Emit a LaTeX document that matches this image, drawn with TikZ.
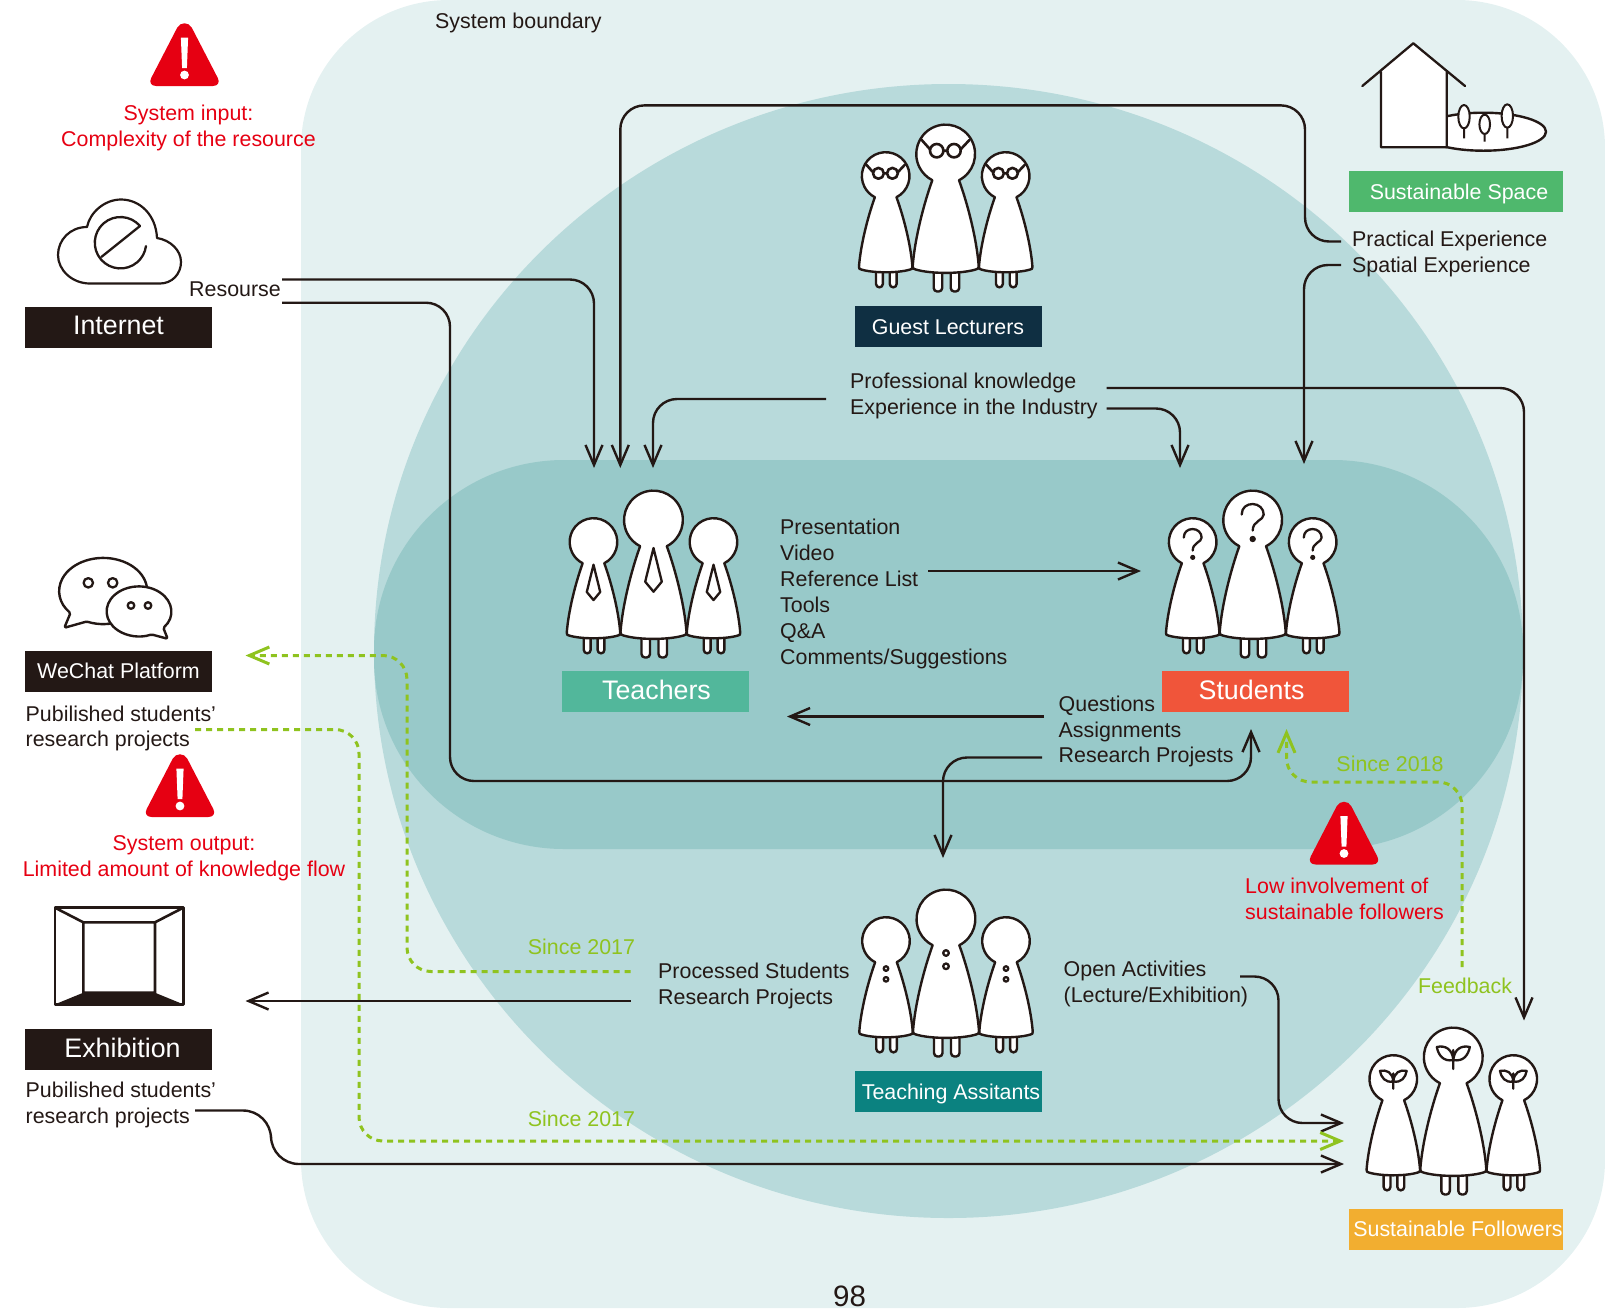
\documentclass[tikz,border=0pt]{standalone}
\usepackage{fontspec}
\setmainfont{Liberation Sans}
\usetikzlibrary{arrows.meta}
\definecolor{ink}{HTML}{231815}
\definecolor{zoneout}{HTML}{E4F1F1}
\definecolor{zonemid}{HTML}{B8DADB}
\definecolor{zonein}{HTML}{98C9C9}
\definecolor{alert}{HTML}{E60012}
\definecolor{leaf}{HTML}{8FC31F}
\definecolor{tagguest}{HTML}{0F2F42}
\definecolor{tagteacher}{HTML}{52B79B}
\definecolor{tagstudent}{HTML}{F0553A}
\definecolor{tagassist}{HTML}{0B8280}
\definecolor{tagfollow}{HTML}{F2AE30}
\definecolor{tagspace}{HTML}{4FB86D}
\tikzset{
  x=1pt,y=-1pt,
  figure line/.style={draw=ink,fill=white,line width=2.4pt,line join=round},
  deco line/.style={draw=ink,line width=2.3pt,line cap=round,line join=round},
  txt/.style={text=ink,inner sep=0pt,align=left,anchor=west,font=\fontsize{21.4}{25.9}\selectfont},
  redtxt/.style={txt,text=alert},
  greentxt/.style={text=leaf,inner sep=0pt,font=\fontsize{21.4}{25.9}\selectfont},
  tag/.style={text=white,inner sep=0pt,minimum width=187pt,minimum height=41pt,text height=15.3pt,text depth=0pt,
    font=\fontsize{21.4}{25.9}\selectfont},
  bigtag/.style={tag,text height=19pt,font=\fontsize{26.8}{30}\selectfont},
  link/.style={draw=ink,line width=2.4pt,rounded corners=24pt,-{Straight Barb[length=20pt,width=17pt]}},
  greenlink/.style={draw=leaf,line width=3pt,rounded corners=24pt,dash pattern=on 6pt off 5pt,
    -{Straight Barb[length=20pt,width=17pt]}},
}
% One figure: legs, then body and head as one outline, then its emblem
\newcommand{\drawperson}[4]{%
  \begin{scope}[shift={(#1,#2)},scale=#3]
    \draw[figure line,rounded corners=3.5pt] (-12,105) -- (-12,137.5) -- (-3.5,137.5) -- (-3.5,105);
    \draw[figure line,rounded corners=3.5pt] (5,105) -- (5,137.5) -- (13.5,137.5) -- (13.5,105);
    \draw[figure line] (13.3,26.2) arc[start angle=63,end angle=-243,radius=29.4]
      .. controls (-22,50) and (-31,85) .. (-33,112)
      .. controls (-33.5,114.5) and (-32,115) .. (-30,115.5)
      .. controls (-15,120) and (15,120) .. (30,115.5)
      .. controls (32,115) and (33.5,114.5) .. (33,112)
      .. controls (31,85) and (22,50) .. (13.3,26.2) -- cycle;
    #4
  \end{scope}}
\newcommand{\drawtrio}[3]{%
  \drawperson{#1-60}{#2+22}{0.81}{#3}%
  \drawperson{#1+60}{#2+22}{0.81}{#3}%
  \drawperson{#1}{#2}{1}{#3}}
% Emblems
\newcommand{\tieemblem}{\draw[deco line] (0,28) -- (-8.3,61.7) -- (0,71.7) -- (8.3,61.7) -- cycle;}
\newcommand{\glassemblem}{%
  \draw[deco line,line width=2.6pt] (-9,-3.3) circle[radius=6.7] (8.3,-3.3) circle[radius=6.7]
    (-2.3,-3.3) -- (1.6,-3.3) (-24,-14) -- (-15.5,-4.5) (23.7,-14) -- (14.8,-4.5);}
\newcommand{\askemblem}{%
  \draw[deco line] (-11,-5.5) .. controls (-11,-12.5) and (-6,-16) .. (0,-16)
    .. controls (6,-16) and (11,-11.5) .. (11,-5.5)
    .. controls (11,0.5) and (0,0.5) .. (0,10.5);
  \fill[ink] (0,19) circle[radius=3.2];}
\newcommand{\buttonemblem}{%
  \draw[deco line] (0,34) circle[radius=2.8] (0,47.3) circle[radius=2.8];}
\newcommand{\sproutemblem}{%
  \draw[deco line] (0,-7) -- (0,12)
    (0,3) .. controls (-10,5) and (-15,-2) .. (-16.5,-10) .. controls (-8,-12) and (-1,-8) .. (0,3)
    (0,3) .. controls (10,5) and (15,-2) .. (16.5,-10) .. controls (8,-12) and (1,-8) .. (0,3);}
% Warning sign, given centre line and top
\newcommand{\warnsign}[2]{%
  \begin{scope}[shift={(#1,#2)}]
    \fill[alert] (-7.3,4.7) .. controls (-4.25,-1.2) and (4.25,-1.2) .. (7.3,4.7)
      -- (33.3,55) .. controls (35.6,59.4) and (33.35,63) .. (28.4,63)
      -- (-28.4,63) .. controls (-33.35,63) and (-35.6,59.4) .. (-33.3,55) -- cycle;
    \fill[white] (-3.6,14.5) -- (3.6,14.5) -- (2.4,45) -- (-2.4,45) -- cycle;
    \fill[white] (0,52) circle[radius=4.4];
  \end{scope}}
\begin{document}
\begin{tikzpicture}
\useasboundingbox (0,0) rectangle (1605,1310);

% Nested zones
\fill[zoneout,rounded corners=148pt] (301,0) rectangle (1605,1308);
\fill[zonemid] (948.5,651) ellipse[x radius=574.5,y radius=567];
\fill[zonein,rounded corners=190pt] (374,460) rectangle (1523,849);

% Internet cloud
\draw[figure line,line width=2.2pt] (90,283.5) .. controls (72,283.5) and (58,270) .. (58,255)
  .. controls (58,240) and (70,227) .. (87,227)
  .. controls (90,212) and (105,199.5) .. (121,199.5)
  .. controls (140,199.5) and (156,215) .. (157,238)
  .. controls (170,240) and (181,250) .. (181,262)
  .. controls (181,274) and (172,283.5) .. (160,283.5) -- cycle;
\draw[deco line] (140,226) arc[start angle=-40.6,end angle=-352.5,radius=25.7] (140,226) -- (101.7,256.7);

% WeChat bubbles
\draw[figure line,rounded corners=1.5pt] (86.7,621.5) arc[start angle=112,end angle=-222,x radius=44,y radius=33]
  -- (64.3,627.8) -- cycle;
\draw[figure line,rounded corners=1.5pt] (163.3,627.8) arc[start angle=41,end angle=-293,x radius=32.3,y radius=25]
  -- (167.7,638.8) -- cycle;
\draw[deco line] (88.3,582.8) circle[radius=4.7] (112.7,582.8) circle[radius=4.7]
  (131,605.5) circle[radius=3.3] (148,605.5) circle[radius=3.3];

% Exhibition room
\draw[figure line,line width=2.6pt] (55,907.7) rectangle (183.3,1004.3);
\fill[ink] (83.3,992.7) -- (155,992.7) -- (183.3,1004.3) -- (55,1004.3) -- cycle;
\draw[deco line,line width=2.6pt,line cap=butt] (83.3,922.3) rectangle (155,992.7)
  (55,907.7) -- (83.3,922.3) (183.3,907.7) -- (155,922.3);

% House with garden
\draw[figure line] (1483.3,131.7) ellipse[x radius=62.7,y radius=19];
\draw[figure line,line width=2pt] (1464,116.7) ellipse[x radius=5.7,y radius=11.7] (1464,128.4) -- (1464,138.3)
  (1484.7,124.3) ellipse[x radius=5.3,y radius=9.7] (1484.7,134) -- (1484.7,141.7)
  (1507.3,116) ellipse[x radius=5.7,y radius=11.7] (1507.3,127.7) -- (1507.3,138.3);
\fill[white] (1381,72) -- (1413.3,43.3) -- (1446.7,72) -- (1446.7,147.3) -- (1381,147.3) -- cycle;
\draw[deco line] (1381,72) -- (1381,147.3) -- (1446.7,147.3) -- (1446.7,72)
  (1362.3,86) -- (1413.3,43.3) -- (1465,86);

% Groups of people
\drawtrio{945.7}{154}{\glassemblem}
\drawtrio{653.5}{520}{\tieemblem}
\drawtrio{1252.7}{520}{\askemblem}
\drawtrio{946}{919}{\buttonemblem}
\drawtrio{1453.3}{1057}{\sproutemblem}

% Warning signs
\warnsign{184.5}{23}
\warnsign{180}{754}
\warnsign{1344}{801.5}

% Name tags
\node[bigtag,fill=ink] (internet) at (118.5,327.5) {\raisebox{2.2pt}{Internet}};
\node[tag,fill=ink] (wechat) at (118.5,671.5) {\raisebox{0.8pt}{WeChat Platform}};
\node[bigtag,fill=ink] (exhibition) at (118.5,1049.5) {\hspace*{8pt}\raisebox{2pt}{Exhibition}};
\node[tag,fill=tagguest] (guests) at (948,326.5) {Guest Lecturers};
\node[bigtag,fill=tagteacher] (teachers) at (655.5,691.5) {\hspace*{2pt}\raisebox{2pt}{Teachers}};
\node[bigtag,fill=tagstudent] (students) at (1255,691.5) {\raisebox{2pt}{Students}\hspace*{7pt}};
\node[tag,fill=tagassist] (assistants) at (948,1091.5) {\hspace*{6pt}Teaching Assitants};
\node[tag,fill=tagfollow,minimum width=214pt] (followers) at (1456,1229) {\hspace*{4pt}Sustainable Followers};
\node[tag,fill=tagspace,minimum width=214pt] (space) at (1456,191.5) {\hspace*{6pt}Sustainable Space};

% Captions
\node[txt] (boundary) at (435,23) {System boundary};
\node[txt] (resource) at (189,289) {Resourse};
\node[txt] (experience) at (1352,254) {Practical Experience\\Spatial Experience};
\node[txt] (knowledge) at (850,396) {Professional knowledge\\Experience in the Industry};
\node[txt] (materials) at (780,594.2) {Presentation\\Video\\Reference List\\Tools\\Q\&A\\Comments/Suggestions};
\node[txt] (questions) at (1058.5,731.5) {Questions\\Assignments\\Research Projests};
\node[txt] (processed) at (658,986) {Processed Students\\Research Projects};
\node[txt] (activities) at (1063.5,983.5) {Open Activities\\(Lecture/Exhibition)};
\node[txt] (pubweb) at (25.5,728.5) {Pubilished students’\\research projects};
\node[txt] (pubshow) at (25.5,1104.5) {Pubilished students’\\research projects};
\node[redtxt,align=center,anchor=center] (input) at (188.5,128) {System input:\\Complexity of the resource};
\node[redtxt,align=center,anchor=center] (output) at (184,858) {System output:\\Limited amount of knowledge flow};
\node[redtxt] (low) at (1245,899) {Low involvement of\\sustainable followers};
\node[greentxt] (s17a) at (581.5,947) {Since 2017};
\node[greentxt] (s17b) at (581.5,1119) {Since 2017};
\node[greentxt] (s18) at (1390,763.6) {Since 2018};
\node[greentxt] (feedback) at (1465,986) {Feedback};
\node[text=ink,inner sep=0pt,font=\fontsize{29.5}{32}\selectfont] (page) at (849.6,1296.5) {98};

% Connector ends
\coordinate (resA) at (282,279.5);
\coordinate (resB) at (282,302.7);
\coordinate (toTeachA) at (594,468);
\coordinate (toTeachB) at (620.3,468);
\coordinate (toTeachC) at (653,468);
\coordinate (practical) at (1341,241.5);
\coordinate (spatial) at (1341,265);
\coordinate (toStudB) at (1304,464);
\coordinate (toStudC) at (1180,468);
\coordinate (toStudA) at (1251,729);
\coordinate (knowL) at (826,399);
\coordinate (knowR) at (1106.5,408.5);
\coordinate (knowT) at (1106.5,388);
\coordinate (toFollowA) at (1524,1020.5);
\coordinate (listR) at (928,571);
\coordinate (toStudD) at (1141,571);
\coordinate (questL) at (1044,716.5);
\coordinate (toTeachD) at (787,716.5);
\coordinate (projL) at (1042,757.5);
\coordinate (toAssist) at (943,858);
\coordinate (openR) at (1240,976.5);
\coordinate (toFollowB) at (1344,1123);
\coordinate (procB) at (630.5,1001);
\coordinate (toExhibit) at (245.5,1001);
\coordinate (showR) at (195,1110.5);
\coordinate (toFollowC) at (1344,1164);
\coordinate (procG) at (630.5,971.5);
\coordinate (toWeb) at (245.5,655.5);
\coordinate (webR) at (195,729.5);
\coordinate (toFollowD) at (1344,1141);
\coordinate (feedT) at (1462,967);
\coordinate (toStudE) at (1286.5,729);

% Knowledge flows
\draw[link] (resA) -- (594,279.5) -- (toTeachA);
\draw[link] (resB) -- (450,302.7) -- (450,781) -- (1251,781) -- (toStudA);
\draw[link] (practical) -- (1305,241.5) -- (1305,105.4) -- (620.3,105.4) -- (toTeachB);
\draw[link] (spatial) -- (1304,265) -- (toStudB);
\draw[link] (knowL) -- (653,399) -- (toTeachC);
\draw[link] (knowR) -- (1180,408.5) -- (toStudC);
\draw[link] (knowT) -- (1524,388) -- (toFollowA);
\draw[link] (listR) -- (toStudD);
\draw[link] (questL) -- (toTeachD);
\draw[link] (projL) -- (943,757.5) -- (toAssist);
\draw[link] (openR) -- (1278.5,976.5) -- (1278.5,1123) -- (toFollowB);
\draw[link] (procB) -- (toExhibit);
\draw[link,rounded corners=28pt] (showR) -- (271,1110.5) -- (271,1164) -- (toFollowC);
\draw[greenlink] (procG) -- (407,971.5) -- (407,655.5) -- (toWeb);
\draw[greenlink] (webR) -- (359,729.5) -- (359,1141) -- (toFollowD);
\draw[greenlink] (feedT) -- (1462,782) -- (1286.5,782) -- (toStudE);
\end{tikzpicture}
\end{document}
